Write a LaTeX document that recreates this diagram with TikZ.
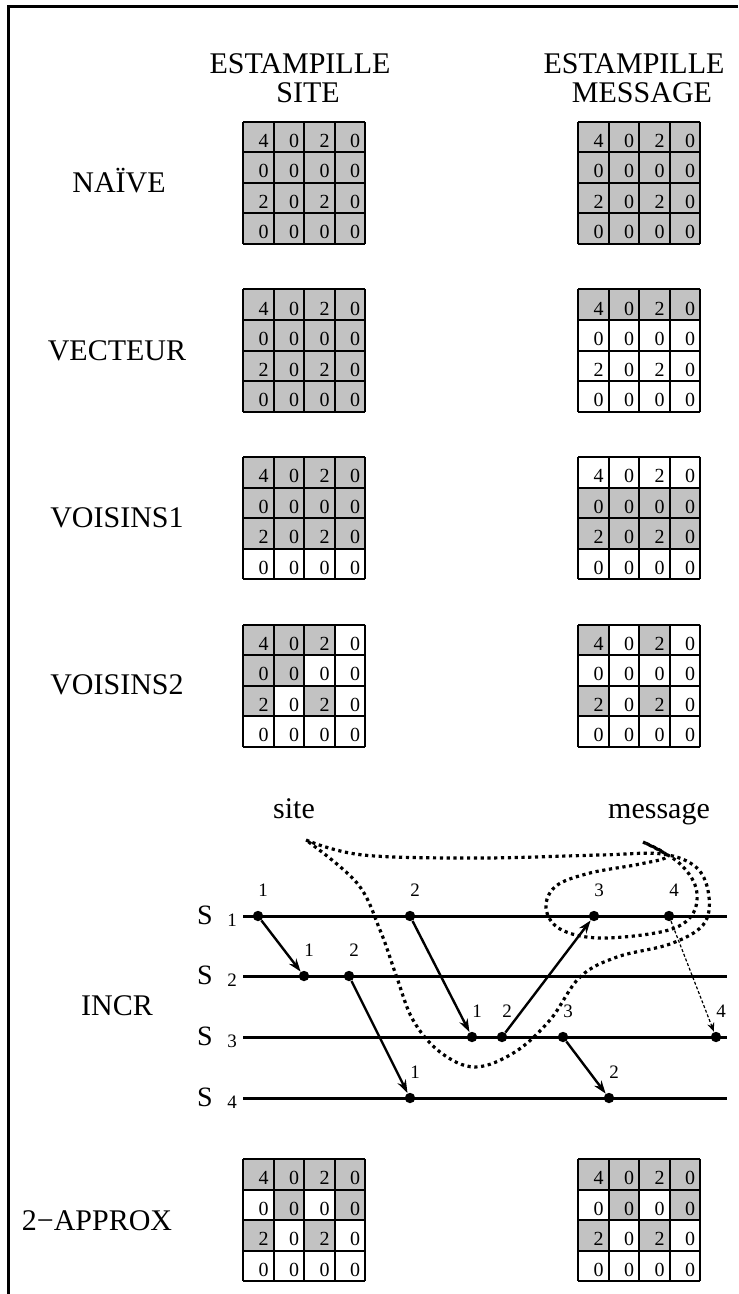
\documentclass[tikz,border=0pt]{standalone}
\usepackage{fontspec}
\setmainfont{Liberation Serif}
\usepackage{tikz}
\usetikzlibrary{arrows.meta}
\definecolor{CSgray}{RGB}{194,194,194}

\tikzset{
  label/.style={anchor=base, inner sep=0pt, font=\fontsize{15}{15}\selectfont},
  digit/.style={anchor=base east, inner sep=0pt, font=\fontsize{10}{10}\selectfont},
  cellline/.style={line width=1pt},
  proc/.style={line width=1.5pt},
  dot/.style={circle, fill, inner sep=0pt, minimum size=5.2pt},
  evlabel/.style={anchor=base, inner sep=0pt, font=\fontsize{9.5}{9.5}\selectfont},
  pname/.style={anchor=base, inner sep=0pt, font=\fontsize{14}{14}\selectfont},
  msg/.style={line width=1.2pt, -{Stealth[length=6.5pt, width=4.5pt]}},
  lostmsg/.style={line width=0.6pt, dash pattern=on 1.5pt off 1pt, -{Stealth[length=4.5pt, width=3.5pt]}},
  region/.style={line width=1.6pt, dash pattern=on 1.6pt off 1.8pt},
  frame/.style={line width=1.5pt}
}

% #1 name, #2 left, #3 top, #4 shaded cells (row by row)
\newcommand{\stampgrid}[4]{
  \foreach \s [count=\k from 0] in {#4}{
    \pgfmathtruncatemacro\gr{\k/4}
    \pgfmathtruncatemacro\gc{\k-4*\gr}
    \pgfmathtruncatemacro\gv{{4,0,2,0,0,0,0,0,2,0,2,0,0,0,0,0}[\k]}
    \ifnum\s=1
      \fill[CSgray] ({#2+\gc*30.5},{#3+\gr*30.5}) rectangle ++(30.5,30.5);
    \fi
    \node[digit] (#1-\gr-\gc) at ({#2+(\gc+1)*30.5-4.5},{#3+\gr*30.5+25.5}) {\gv};
  }
  \foreach \i in {0,...,4}{
    \draw[cellline] ({#2+\i*30.5},#3) -- ++(0,122);
    \draw[cellline] (#2,{#3+\i*30.5}) -- ++(122,0);
  }
}

\begin{document}
\begin{tikzpicture}[x=0.5pt, y=-0.5pt]
  \useasboundingbox (0,0) rectangle (738,1294);
  \coordinate (ftl) at (8,7);
  \coordinate (ftr) at (738,7);
  \coordinate (fbl) at (8,1294);
  \draw[frame] (ftr) -- (ftl) -- (fbl);

  \node[label] (hsite) at (300,74) {ESTAMPILLE};
  \node[label] (hsite2) at (308,103) {SITE};
  \node[label] (hmsg) at (634,74) {ESTAMPILLE};
  \node[label] (hmsg2) at (642,103) {MESSAGE};

  \node[label] (naive) at (119,193) {NAÏVE};
  \stampgrid{naives}{243}{122}{1,1,1,1,1,1,1,1,1,1,1,1,1,1,1,1}
  \stampgrid{naivem}{578}{122}{1,1,1,1,1,1,1,1,1,1,1,1,1,1,1,1}

  \node[label] (vecteur) at (117,360) {VECTEUR};
  \stampgrid{vects}{243}{289.5}{1,1,1,1,1,1,1,1,1,1,1,1,1,1,1,1}
  \stampgrid{vectm}{578}{289.5}{1,1,1,1,0,0,0,0,0,0,0,0,0,0,0,0}

  \node[label] (vois1) at (117,527) {VOISINS1};
  \stampgrid{voisas}{243}{457}{1,1,1,1,1,1,1,1,1,1,1,1,0,0,0,0}
  \stampgrid{voisam}{578}{457}{0,0,0,0,1,1,1,1,1,1,1,1,0,0,0,0}

  \node[label] (vois2) at (117,694) {VOISINS2};
  \stampgrid{voisbs}{243}{624.5}{1,1,1,0,1,1,0,0,1,0,1,0,0,0,0,0}
  \stampgrid{voisbm}{578}{624.5}{1,0,1,0,0,0,0,0,1,0,1,0,0,0,0,0}

  \node[label] (incr) at (117,1015) {INCR};
  \node[label] (lsite) at (294,818) {site};
  \node[label] (lmsg) at (659,818) {message};

  \foreach \i/\y in {1/916, 2/976, 3/1037, 4/1098}{
    \node[pname] (s\i) at (205,\y+8) {S};
    \node[evlabel] (s\i-n) at (232,\y+10) {\i};
    \coordinate (p\i-w) at (243,\y);
    \coordinate (p\i-e) at (727,\y);
    \draw[proc] (p\i-w) -- (p\i-e);
  }

  \foreach \n/\x/\y/\t in {e1a/258/916/1, e1b/410/916/2, e1c/594/916/3, e1d/669/916/4,
      e2a/304/976/1, e2b/349/976/2,
      e3a/472/1037/1, e3b/502/1037/2, e3c/563/1037/3, e3d/716/1037/4,
      e4a/410/1098/1, e4b/609/1098/2}{
    \node[dot] (\n) at (\x,\y) {};
    \node[evlabel] (\n-l) at (\x+5,\y-20) {\t};
  }

  \foreach \a/\b in {e1a/e2a, e1b/e3a, e2b/e4a, e3b/e1c, e3c/e4b}
    \draw[msg] (\a) -- (\b);
  \draw[lostmsg] (e1d) -- (e3d);

  \draw[region] plot[smooth, tension=0.6] coordinates {(306,840) (363,855) (480,858)
    (600,855) (662,854) (697,868) (709,897) (703,925) (670,944) (617,957) (580,977)
    (550,1020) (515,1052) (475,1067) (440,1052) (413,1020) (396,975) (380,930)
    (357,883) (306,840)};
  \draw[region] plot[smooth, tension=0.6] coordinates {(643,842) (678,862) (696,888)
    (692,915) (665,931) (600,938) (560,929) (546,908) (556,886) (590,873) (640,864)
    (667,856) (643,842)};

  \node[label] (approx) at (97,1230) {2−APPROX};
  \stampgrid{apprs}{243}{1159}{1,1,1,1,0,1,0,1,1,0,1,0,0,0,0,0}
  \stampgrid{apprm}{578}{1159}{1,1,1,1,0,1,0,1,1,0,1,0,0,0,0,0}
\end{tikzpicture}
\end{document}
